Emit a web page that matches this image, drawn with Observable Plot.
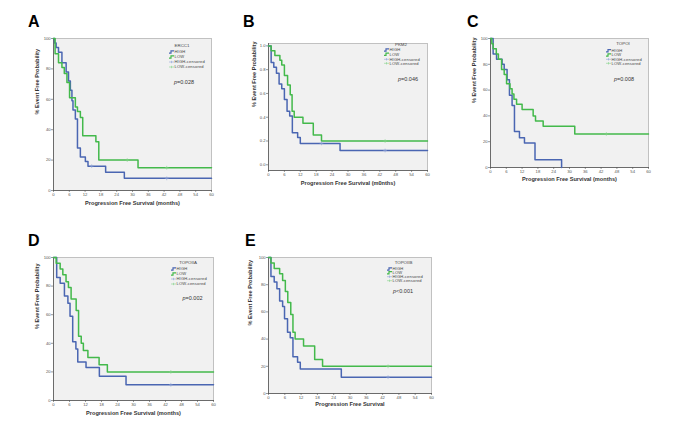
<!DOCTYPE html>
<html><head><meta charset="utf-8">
<script src="https://cdn.jsdelivr.net/npm/d3@7"></script>
<script src="https://cdn.jsdelivr.net/npm/@observablehq/plot@0.6"></script>
<style>
body{margin:0;background:#fff;}
#wrap{position:relative;width:683px;height:434px;overflow:hidden;background:#fff;}
.panel{position:absolute;}
#letters{position:absolute;left:0;top:0;pointer-events:none;}
</style></head><body><div id="wrap"></div>
<script>
// ---------- tick labels, categories, texts ----------
const monthTicks = [0,6,12,18,24,30,36,42,48,54,60];
const pctTicks = [0,20,40,60,80,100];
const fracTicks = [0,0.2,0.4,0.6,0.8,1.0];
const panelLetters = ["A","B","C","D","E"];
const markers = ["ERCC1","PKM2","TOPOI","TOPOIIA","TOPOIIB"];
const groupNames = ["HIGH","LOW","HIGH-censored","LOW-censored"];
const pValues = ["=0.028","=0.046","=0.008","=0.002","<0.001"];
const xTitles = ["Progression Free Survival (months)","Progression Free Survival (m0nths)","Progression Free Survival (months)","Progression Free Survival (months)","Progression Free Survival"];
const yTitle = "% Event Free Probability";

// ---------- series values: [month, event-free %] at each step ----------
const ercc1High = [[0,100],[0.4,97],[1,94],[1.9,91],[3.2,84],[4.8,78],[5.7,72],[6.4,66],[7,59],[7.4,53],[8.3,47],[9.1,28],[10.2,22],[12.1,19],[13.1,16],[19.8,12],[26.9,8],[60,8]];
const ercc1Low  = [[0,100],[0.6,90],[1.9,84],[3.2,81],[4.1,77],[5.1,71],[6.1,61],[8.3,55],[9.1,52],[10.2,48],[11.1,36],[16.1,32],[17.2,20],[32.1,15],[60,15]];
const pkm2High  = [[0,1],[1,0.86],[2,0.82],[3,0.77],[4,0.68],[5,0.64],[6,0.55],[7,0.45],[8,0.41],[9,0.27],[11,0.23],[12,0.18],[27,0.12],[60,0.12]];
const pkm2Low   = [[0,1],[1,0.96],[2.4,0.92],[4.3,0.88],[5,0.84],[6,0.75],[7.2,0.67],[8.2,0.59],[8.9,0.45],[9.7,0.40],[13,0.35],[16.9,0.25],[20,0.20],[60,0.20]];
const topoIHigh = [[0,100],[1,88],[2.3,84],[4.4,80],[5.2,76],[6.3,68],[7.2,56],[8.2,48],[9.1,28],[11,23],[12.9,19],[16.9,6],[27,0]];
const topoILow  = [[0,100],[0.5,96],[1,92],[2.2,88],[3,84],[4.2,76],[5.2,72],[6.1,65],[7.4,61],[8.2,57],[8.9,53],[9.9,49],[12,45],[16.2,40],[17.1,36],[20,32],[32,26],[60,26]];
const topoIIAHigh = [[0,100],[1.2,86],[2.5,82],[4.1,73],[5.4,68],[6.2,59],[7.2,41],[8.4,36],[9.1,27],[12.2,23],[17.2,17],[27.2,11],[60,11]];
const topoIIALow  = [[0,100],[1,96],[2.5,92],[3.5,88],[4.7,83],[5.6,79],[6.6,71],[8.5,63],[9.4,45],[10.4,40],[11.2,35],[12.9,30],[17.1,25],[20.2,20],[60,20]];
const topoIIBHigh = [[0,100],[0.9,86],[2.1,82],[3.1,77],[4.1,68],[5.2,64],[5.9,55],[7,45],[8,41],[9,27],[10.7,23],[11.7,18],[26.8,12],[60,12]];
const topoIIBLow  = [[0,100],[0.9,96],[2.1,92],[4.1,88],[5.2,83],[6.2,75],[7.1,67],[8.2,58],[9,45],[9.8,40],[12.9,35],[17,25],[19.9,20],[60,20]];
// censored observations
const ercc1HighCens = [[14.5,16],[43,8]];
const ercc1LowCens  = [[28,20],[43,15]];
const pkm2HighCens  = [[20,0.18],[44,0.12]];
const pkm2LowCens   = [[44,0.20]];
const topoIHighCens = [];
const topoILowCens  = [[44,26]];
const topoIIAHighCens = [[44,11]];
const topoIIALowCens  = [[44,20]];
const topoIIBHighCens = [[44,12]];
const topoIIBLowCens  = [[44,20]];

const seriesHigh = [ercc1High, pkm2High, topoIHigh, topoIIAHigh, topoIIBHigh];
const seriesLow  = [ercc1Low, pkm2Low, topoILow, topoIIALow, topoIIBLow];
const censHigh = [ercc1HighCens, pkm2HighCens, topoIHighCens, topoIIAHighCens, topoIIBHighCens];
const censLow  = [ercc1LowCens, pkm2LowCens, topoILowCens, topoIIALowCens, topoIIBLowCens];

// ---------- layout & style ----------
const BLUE = "#4a66b2", GREEN = "#43b94b", BLUE_L = "#8ea3d6", GREEN_L = "#85d38a";
const FONT = '"Liberation Sans", Arial, sans-serif';
const layout = [
  {L:53, T:38, R:211, B:190, lx:28, ly:27, yDx:16, xDy:13, lt:[29,7], rows:[14,19,24,29], sw:42, p:[27,44]},
  {L:268,T:43, R:427, B:170, lx:243,ly:27, yDx:14, xDy:13, lt:[26,1], rows:[7,11.3,16.3,20.3], sw:43, p:[19,36]},
  {L:490,T:38, R:648, B:167, lx:467,ly:27, yDx:16, xDy:12, lt:[25,5.3], rows:[12.7,17,21.3,25.3], sw:42, p:[24,41]},
  {L:53, T:257,R:213, B:400, lx:28, ly:246,yDx:16, xDy:13, lt:[25,5.7], rows:[12,17,22,27], sw:42, p:[20.5,41]},
  {L:268,T:257,R:431, B:393, lx:245,ly:246,yDx:18, xDy:11, lt:[27.5,5.7], rows:[12,15.7,19.7,23.7], sw:44, p:[28,34]}
];

const wrap = document.getElementById("wrap");

function makePanel(i) {
  const c = layout[i];
  const mL = 30, mT = 4, mR = 4, mB = 20;
  const W = c.R - c.L + mL + mR, H = c.B - c.T + mT + mB;
  const frac = i === 1;
  const yDomain = frac ? [-0.048, 1.02] : [0, 100];
  const yTicks = frac ? fracTicks : pctTicks;
  const fmt = frac ? d3.format(".1f") : d3.format("d");
  const acc = {x: d => d[0], y: d => d[1]};
  const chart = Plot.plot({
    width: W, height: H, marginLeft: mL, marginTop: mT, marginRight: mR, marginBottom: mB,
    style: {background: "transparent", fontFamily: FONT, fontSize: "4.2px", color: "#555", overflow: "visible"},
    x: {domain: [0, 60]},
    y: {domain: yDomain},
    marks: [
      Plot.frame({fill: "#f1f1f1", stroke: "#b4b4b4", strokeWidth: 0.8}),
      Plot.axisX(monthTicks, {tickSize: 2, tickPadding: 0.8, label: null, strokeWidth: 0.6}),
      Plot.axisY(yTicks, {tickSize: 2, tickPadding: 0.8, label: null, tickFormat: fmt, strokeWidth: 0.6}),
      Plot.frame({anchor: "left", stroke: "#555", strokeWidth: 0.8}),
      Plot.frame({anchor: "bottom", stroke: "#555", strokeWidth: 0.8}),
      Plot.line(seriesHigh[i], {...acc, curve: "step-after", stroke: BLUE, strokeWidth: 1.5}),
      Plot.line(seriesLow[i], {...acc, curve: "step-after", stroke: GREEN, strokeWidth: 1.5}),
      Plot.dot(censHigh[i], {...acc, symbol: "plus", r: 1.3, stroke: BLUE_L, strokeWidth: 0.6}),
      Plot.dot(censLow[i], {...acc, symbol: "plus", r: 1.3, stroke: GREEN_L, strokeWidth: 0.6}),
      Plot.text([xTitles[i]], {text: d => d, frameAnchor: "bottom", dy: c.xDy, fontWeight: "bold", fontSize: 5.6, fill: "#333", lineAnchor: "middle", letterSpacing: "0.15px"}),
      Plot.text([yTitle], {text: d => d, frameAnchor: "left", dx: -c.yDx, rotate: -90, fontWeight: "bold", fontSize: 5.6, fill: "#333", letterSpacing: "0.15px"})
    ]
  });
  // legend inside the plot frame (top-right)
  const fr = W - mR, ft = mT;
  const g = d3.select(chart).append("g").attr("font-family", FONT).attr("fill", "#444");
  g.append("text").attr("x", fr - c.lt[0]).attr("y", ft + c.lt[1] + 1.6)
    .attr("text-anchor", "middle").attr("font-size", 4.4).text(markers[i]);
  const colors = [BLUE, GREEN, BLUE_L, GREEN_L];
  groupNames.forEach((name, k) => {
    const x0 = fr - c.sw, y0 = ft + c.rows[k];
    if (k < 2) {
      g.append("path").attr("d", `M${x0},${y0 + 1.1}H${x0 + 2}V${y0 - 1.1}H${x0 + 5}`)
        .attr("fill", "none").attr("stroke", colors[k]).attr("stroke-width", 1.2);
    } else {
      g.append("path").attr("d", `M${x0},${y0}H${x0 + 5}M${x0 + 2.5},${y0 - 1.2}V${y0 + 1.2}`)
        .attr("fill", "none").attr("stroke", colors[k]).attr("stroke-width", 0.6);
    }
    g.append("text").attr("x", x0 + 5.5).attr("y", y0 + 1.4).attr("font-size", 4.1)
      .attr("text-anchor", "start").attr("letter-spacing", "0.15px").text(name);
  });
  const pt = g.append("text").attr("x", fr - c.p[0]).attr("y", ft + c.p[1] + 1.9)
    .attr("text-anchor", "middle").attr("font-size", 5.5).attr("fill", "#333");
  pt.append("tspan").attr("font-style", "italic").text("p");
  pt.append("tspan").text(pValues[i]);

  const div = document.createElement("div");
  div.className = "panel";
  div.style.left = (c.L - mL) + "px";
  div.style.top = (c.T - mT) + "px";
  div.appendChild(chart);
  wrap.appendChild(div);
}

for (let i = 0; i < 5; i++) makePanel(i);

// panel letters
const ov = d3.select(wrap).append("svg").attr("id", "letters").attr("width", 683).attr("height", 434);
layout.forEach((c, i) => {
  ov.append("text").attr("x", c.lx).attr("y", c.ly).attr("font-family", FONT)
    .attr("font-weight", "bold").attr("font-size", 16).attr("fill", "#000").text(panelLetters[i]);
});
</script>
</body></html>
